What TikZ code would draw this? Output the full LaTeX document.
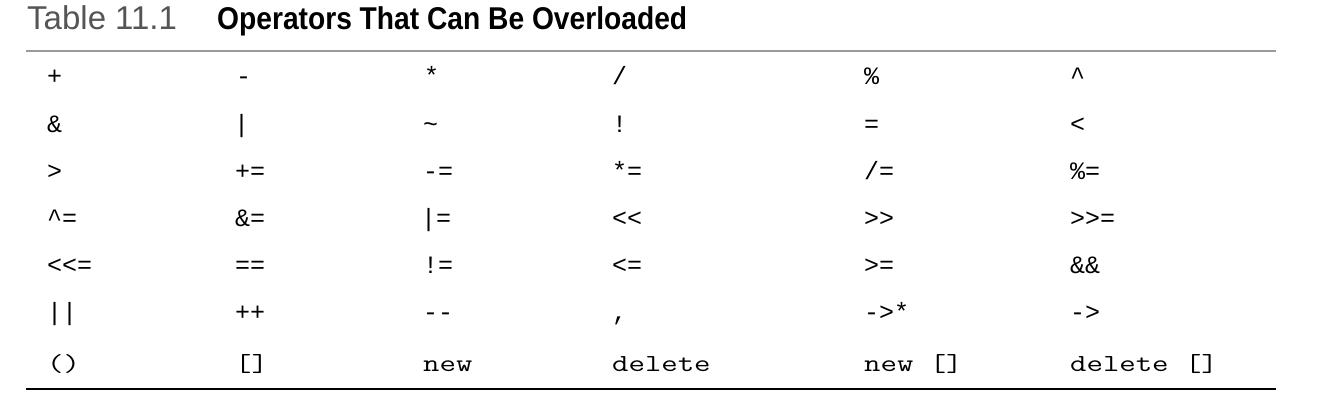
\documentclass[tikz,border=0pt]{standalone}
\usepackage{fontspec}
\setmainfont{Liberation Sans}
\newfontfamily\opsfont{Liberation Mono}
\usepackage{graphicx}
\usepackage{xcolor}
\usetikzlibrary{positioning}

\definecolor{titlegray}{HTML}{555555}
\definecolor{rulegray}{HTML}{9A9A9A}

% wide typewriter text for the keyword row
\newcommand{\kwtext}[1]{\scalebox{1.3}[1]{#1}}
\newcommand{\headtext}[1]{\scalebox{0.895}[1]{#1}}

\tikzset{
  op/.style={anchor=base west, inner sep=0pt, font=\opsfont\fontsize{25}{25}\selectfont},
  kw/.style={anchor=base west, inner sep=0pt, font=\ttfamily\fontsize{24.5}{24.5}\selectfont},
  caption/.style={anchor=base west, inner sep=0pt, text=titlegray, font=\fontsize{33}{33}\selectfont},
  heading/.style={anchor=base west, inner sep=0pt, font=\bfseries\fontsize{31.5}{32}\selectfont}
}

\begin{document}
\begin{tikzpicture}[x=1pt, y=-1pt]
        \useasboundingbox (0,0) rectangle (1320,403);
        % title
        \node[caption] (tabno) at (27,30) {Table 11.1};
        \node[heading] (tabtitle) at (217,30) {\headtext{Operators That Can Be Overloaded}};
        \draw[rulegray, line width=2pt] (26,51) -- (1276,51);
        % row 1
        \node[op] (r1c1) at (47,85) {+};
        \node[op] (r1c2) at (236,85) {-};
        \node[op] (r1c3) at (424,85) {*};
        \node[op] (r1c4) at (612,85) {/};
        \node[op] (r1c5) at (864,85) {\%};
        \node[op] (r1c6) at (1070,85) {\textasciicircum};
        % row 2
        \node[op] (r2c1) at (47,133) {\&};
        \node[op] (r2c2) at (234,133) {|};
        \node[op] (r2c3) at (423,133) {\textasciitilde};
        \node[op] (r2c4) at (612,133) {!};
        \node[op] (r2c5) at (864,133) {=};
        \node[op] (r2c6) at (1070,133) {<};
        % row 3
        \node[op] (r3c1) at (47,180) {>};
        \node[op] (r3c2) at (235,180) {+=};
        \node[op] (r3c3) at (423,180) {-=};
        \node[op] (r3c4) at (612,180) {*=};
        \node[op] (r3c5) at (864,180) {/=};
        \node[op] (r3c6) at (1070,180) {\%=};
        % row 4
        \node[op] (r4c1) at (47,227) {\textasciicircum=};
        \node[op] (r4c2) at (235,227) {\&=};
        \node[op] (r4c3) at (421,227) {|=};
        \node[op] (r4c4) at (612,227) {<<};
        \node[op] (r4c5) at (864,227) {>>};
        \node[op] (r4c6) at (1070,227) {>>=};
        % row 5
        \node[op] (r5c1) at (47,274) {<<=};
        \node[op] (r5c2) at (235,274) {==};
        \node[op] (r5c3) at (423,274) {!=};
        \node[op] (r5c4) at (612,274) {<=};
        \node[op] (r5c5) at (864,274) {>=};
        \node[op] (r5c6) at (1070,274) {\&\&};
        % row 6
        \node[op] (r6c1) at (47,321) {||};
        \node[op] (r6c2) at (235,321) {++};
        \node[op] (r6c3) at (423,321) {-{}-};
        \node[op] (r6c4) at (612,321) {,};
        \node[op] (r6c5) at (864,321) {->*};
        \node[op] (r6c6) at (1070,321) {->};
        % row 7
        \node[kw] (r7c1) at (47,371) {\kwtext{()}};
        \node[kw] (r7c2) at (235,371) {\kwtext{[]}};
        \node[kw] (r7c3) at (423,371) {\kwtext{new}};
        \node[kw] (r7c4) at (612,371) {\kwtext{delete}};
        \node[kw] (r7c5) at (864,371) {\kwtext{new []}};
        \node[kw] (r7c6) at (1070,371) {\kwtext{delete []}};
        \draw[black, line width=2.5pt] (26,389) -- (1276,389);
    \end{tikzpicture}
\end{document}
